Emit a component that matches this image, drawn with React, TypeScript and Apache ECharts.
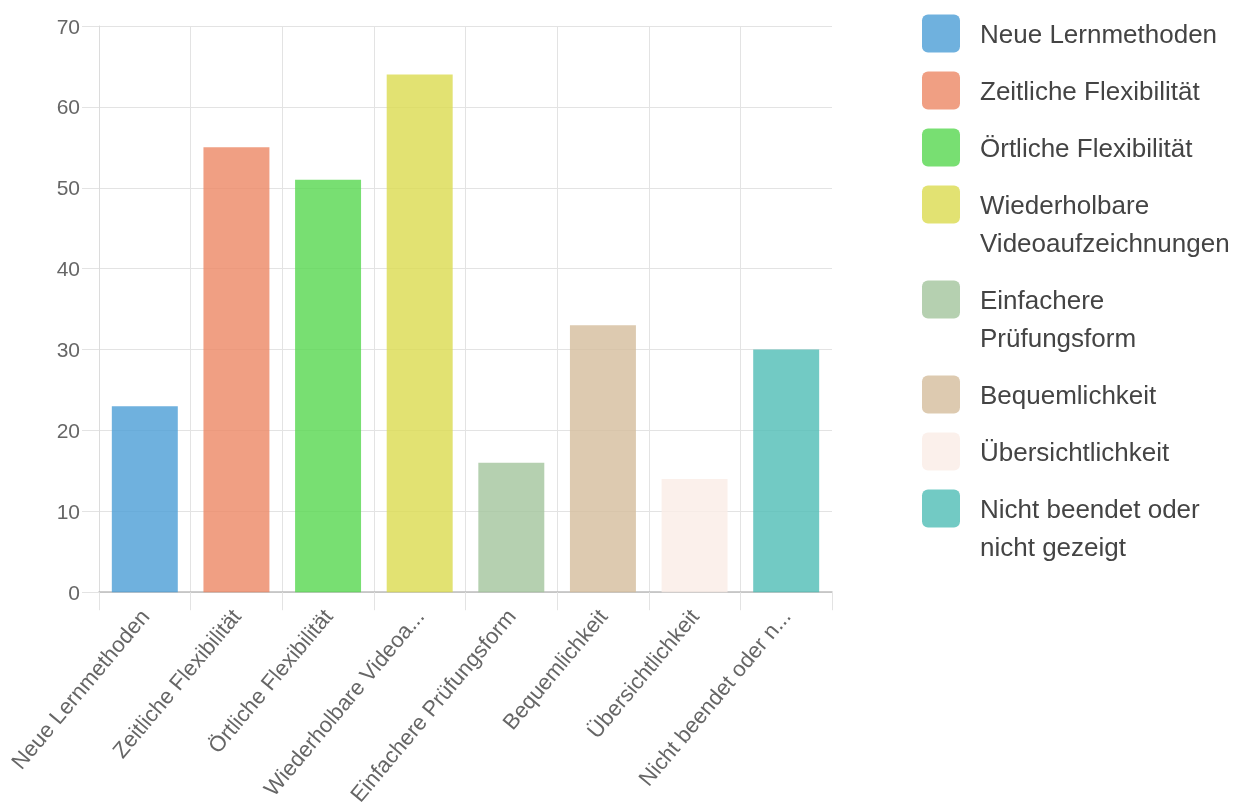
import React, { useEffect, useRef } from "react";
import * as echarts from "echarts";

const categories: string[] = [
  "Neue Lernmethoden",
  "Zeitliche Flexibilität",
  "Örtliche Flexibilität",
  "Wiederholbare Videoaufzeichnungen",
  "Einfachere Prüfungsform",
  "Bequemlichkeit",
  "Übersichtlichkeit",
  "Nicht beendet oder nicht gezeigt",
];
const values: number[] = [23, 55, 51, 64, 16, 33, 14, 30];
const colors: string[] = [
  "rgba(75,158,214,0.8)",
  "rgba(236,135,100,0.8)",
  "rgba(86,215,79,0.8)",
  "rgba(219,219,79,0.8)",
  "rgba(162,196,156,0.8)",
  "rgba(212,189,156,0.8)",
  "rgba(250,236,230,0.8)",
  "rgba(79,189,181,0.8)",
];
const yTicks = { min: 0, max: 70, interval: 10 };

const FONT = '"Liberation Sans", Arial, Helvetica, sans-serif';
const ICON =
  "path://M6,0H32A6,6,0,0,1,38,6V32A6,6,0,0,1,32,38H6A6,6,0,0,1,0,32V6A6,6,0,0,1,6,0Z";

function wrapText(text: string, maxW: number, font: string): string[] {
  const ctx = document.createElement("canvas").getContext("2d");
  if (!ctx) return [text];
  ctx.font = font;
  const words = text.split(" ");
  const lines: string[] = [];
  let cur = "";
  for (const w of words) {
    const test = cur ? cur + " " + w : w;
    if (cur && ctx.measureText(test).width > maxW) {
      lines.push(cur);
      cur = w;
    } else {
      cur = test;
    }
  }
  if (cur) lines.push(cur);
  return lines;
}

function shortLabel(s: string): string {
  return s.length > 25 ? s.slice(0, 20) + "..." : s;
}

export default function App() {
  const ref = useRef<HTMLDivElement>(null);
  useEffect(() => {
    if (!ref.current) return;
    const chart = echarts.init(ref.current, undefined, { renderer: "svg" });

    const LINE = 38;
    const GAP = 19;
    const wrapped = categories.map((c) => wrapText(c, 261, `26px ${FONT}`));
    let iconTop = 14.5;
    const legends = categories.map((name, i) => {
      const n = wrapped[i].length;
      const top = iconTop - (n - 1) * LINE;
      iconTop += n * LINE + GAP;
      // leading empty lines keep the first text line level with the icon
      const text = "\n".repeat(n - 1) + wrapped[i].join("\n");
      return {
        orient: "vertical",
        left: 922,
        top,
        padding: 0,
        itemGap: 0,
        itemWidth: 38,
        itemHeight: 38,
        icon: ICON,
        selectedMode: false,
        data: [name],
        formatter: () => text,
        textStyle: {
          fontSize: 26,
          fontFamily: FONT,
          color: "#444",
          lineHeight: LINE,
          padding: [0, 0, 0, 15],
        },
      };
    });

    const series = categories.map((name, i) => ({
      name,
      type: "bar",
      stack: "total",
      barWidth: "72%",
      itemStyle: { color: colors[i] },
      data: categories.map((_, j) => (j === i ? values[j] : null)),
    }));

    chart.setOption({
      animation: false,
      textStyle: { fontFamily: FONT },
      grid: { left: 99, right: 411, top: 26, bottom: 214, containLabel: false },
      legend: legends,
      xAxis: {
        type: "category",
        data: categories,
        boundaryGap: true,
        axisLine: { show: true, lineStyle: { color: "#bdbdbd", width: 1.5 } },
        axisTick: { show: true, length: 18, lineStyle: { color: "#e3e3e3" } },
        splitLine: {
          show: true,
          showMaxLine: false,
          lineStyle: { color: "#e3e3e3" },
        },
        axisLabel: {
          rotate: 50,
          fontSize: 22,
          color: "#666",
          margin: 20,
          interval: 0,
          formatter: shortLabel,
        },
      },
      yAxis: {
        type: "value",
        min: yTicks.min,
        max: yTicks.max,
        interval: yTicks.interval,
        axisLine: { show: true, lineStyle: { color: "#dcdcdc" } },
        axisTick: { show: true, length: 17, lineStyle: { color: "#e3e3e3" } },
        splitLine: { show: true, lineStyle: { color: "#e3e3e3" } },
        axisLabel: { fontSize: 21, color: "#666", margin: 19 },
      },
      series,
    });
    return () => chart.dispose();
  }, []);
  return (
    <div
      ref={ref}
      style={{ position: "fixed", left: 0, top: 0, width: 1243, height: 808 }}
    />
  );
}
